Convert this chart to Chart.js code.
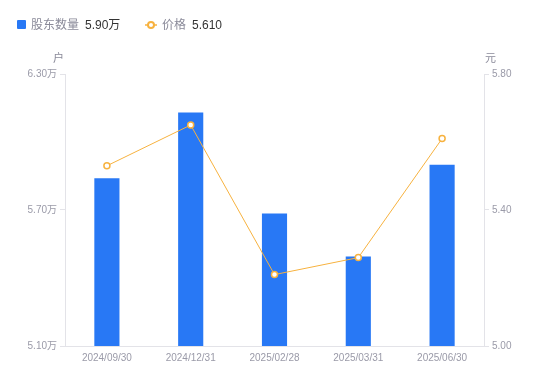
<!DOCTYPE html>
<html><head><meta charset="utf-8">
<script src="https://cdn.jsdelivr.net/npm/chart.js@4/dist/chart.umd.min.js"></script>
<style>
html,body{margin:0;padding:0;background:#fff;}
#wrap{position:relative;width:550px;height:381px;font-family:"Liberation Sans","Noto Sans CJK SC",sans-serif;}
canvas{position:absolute;left:0;top:0;}
.lg{position:absolute;top:16px;height:18px;line-height:18px;font-size:12px;white-space:nowrap;}
.lg .n{color:#8a8a99;}
.lg .v{color:#333;margin-left:6px;}
.sq{position:absolute;left:17px;top:20px;width:9px;height:9px;background:#2878F5;border-radius:1px;}
</style></head>
<body><div id="wrap">
<canvas id="c" width="550" height="381"></canvas>
<div class="sq"></div>
<div class="lg" style="left:31px"><span class="n">股东数量</span><span class="v" id="v1"></span></div>
<svg style="position:absolute;left:145px;top:19px" width="12" height="12"><line x1="0" y1="6" x2="12" y2="6" stroke="#F7B23F" stroke-width="1.5"/><circle cx="6" cy="6" r="3" fill="#fff" stroke="#F7B23F" stroke-width="2"/></svg>
<div class="lg" style="left:162px"><span class="n">价格</span><span class="v" id="v2"></span></div>
</div>
<script>
const categories = ['2024/09/30','2024/12/31','2025/02/28','2025/03/31','2025/06/30'];
const holders = [5.84, 6.13, 5.685, 5.495, 5.90];   // 万户
const prices = [5.53, 5.65, 5.21, 5.26, 5.61];     // 元
const leftTicks = [5.10, 5.70, 6.30];
const rightTicks = [5.00, 5.40, 5.80];

document.getElementById('v1').textContent = holders[holders.length-1].toFixed(2) + '万';
document.getElementById('v2').textContent = prices[prices.length-1].toFixed(3);

const axisColor = '#e3e3e8';
const tickColor = '#9a9aa8';
const font = {family:'"Liberation Sans","Noto Sans CJK SC",sans-serif', size:10};

const titles = {
  id:'titles',
  afterDraw(chart){
    const ctx = chart.ctx, a = chart.chartArea;
    ctx.save();
    ctx.font = '11px "Noto Sans CJK SC","Liberation Sans",sans-serif';
    ctx.fillStyle = '#8a8a99';
    ctx.textBaseline = 'middle';
    ctx.textAlign = 'right';
    ctx.fillText('户', a.left - 1, a.top - 16);
    ctx.textAlign = 'left';
    ctx.fillText('元', a.right + 1, a.top - 16);
    ctx.restore();
  }
};

new Chart(document.getElementById('c'), {
  data: {
    labels: categories,
    datasets: [
      {type:'line', label:'价格', data: prices, yAxisID:'y1', order:0,
       borderColor:'#F7B23F', borderWidth:1, pointRadius:3, pointBorderWidth:1.5,
       pointBackgroundColor:'#fff', pointBorderColor:'#F7B23F', tension:0},
      {type:'bar', label:'股东数量', data: holders, yAxisID:'y', order:1,
       backgroundColor:'#2878F5', barPercentage:0.3, categoryPercentage:1}
    ]
  },
  options: {
    responsive:false, animation:false, devicePixelRatio:1,
    layout:{padding:{top:74,left:0,right:0,bottom:0}},
    plugins:{legend:{display:false}, tooltip:{enabled:false}},
    scales:{
      x:{
        grid:{display:false, drawTicks:false},
        border:{display:true, color:axisColor},
        ticks:{color:tickColor, font, padding:6, maxRotation:0, autoSkip:false},
        afterFit(s){ s.height = 35; }
      },
      y:{
        position:'left', min:5.10, max:6.30,
        grid:{display:true, drawOnChartArea:false, drawTicks:true, tickLength:5, color:axisColor},
        border:{display:true, color:axisColor},
        ticks:{color:tickColor, font, padding:3, callback:v=>Number(v).toFixed(2)+'万'},
        afterBuildTicks(s){ s.ticks = leftTicks.map(v=>({value:v})); },
        afterFit(s){ s.width = 65; }
      },
      y1:{
        position:'right', min:5.00, max:5.80,
        grid:{display:true, drawOnChartArea:false, drawTicks:true, tickLength:5, color:axisColor},
        border:{display:true, color:axisColor},
        ticks:{color:tickColor, font, padding:3, callback:v=>Number(v).toFixed(2)},
        afterBuildTicks(s){ s.ticks = rightTicks.map(v=>({value:v})); },
        afterFit(s){ s.width = 66; }
      }
    }
  },
  plugins:[titles]
});
</script>
</body></html>
